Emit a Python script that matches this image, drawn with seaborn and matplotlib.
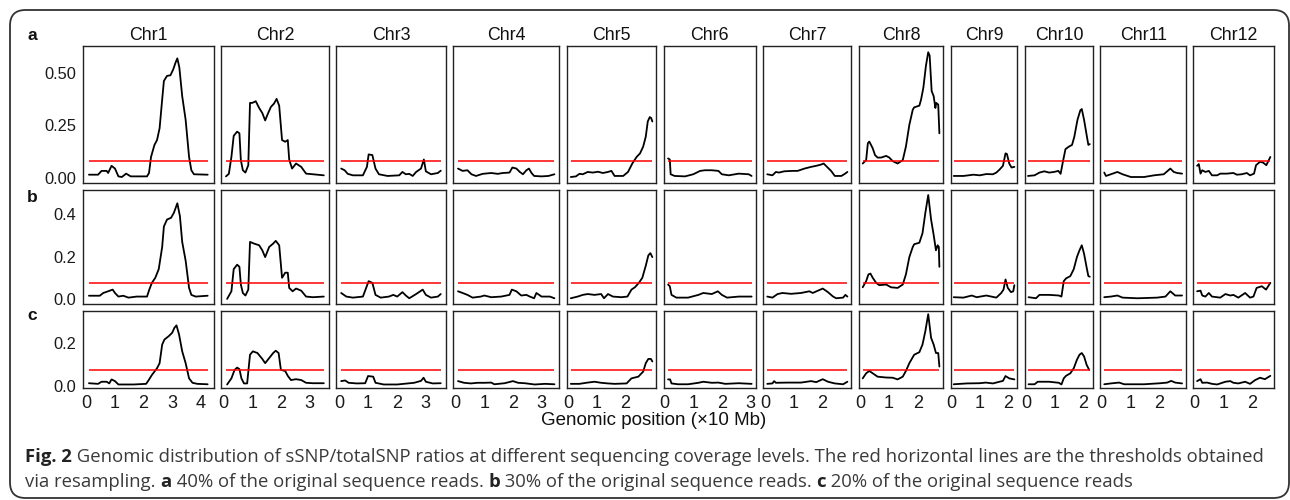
import numpy as np
import pandas as pd
import seaborn as sns
import matplotlib.pyplot as plt
from matplotlib.patches import FancyBboxPatch

# chromosome panels and sample rows
chroms = ['Chr1', 'Chr2', 'Chr3', 'Chr4', 'Chr5', 'Chr6',
          'Chr7', 'Chr8', 'Chr9', 'Chr10', 'Chr11', 'Chr12']
row_labels = ['a', 'b', 'c']
thresholds = [0.081, 0.077, 0.075]

ytick_vals = [[0.0, 0.25, 0.50], [0.0, 0.2, 0.4], [0.0, 0.2]]
ytick_text = [['0.00', '0.25', '0.50'], ['0.0', '0.2', '0.4'], ['0.0', '0.2']]

# --- a: 40% of reads (position in x10 Mb, sSNP/totalSNP ratio)
pos_a = [
    [0.09, 0.41, 0.53, 0.71, 0.76, 0.88, 1.0, 1.12, 1.24, 1.39, 1.55, 2.12, 2.19, 2.26, 2.38, 2.47, 2.56, 2.65, 2.71,
     2.82, 2.94, 3.04, 3.12, 3.18, 3.25, 3.35, 3.47, 3.59, 3.67, 3.76, 4.24],
    [0.08, 0.18, 0.27, 0.35, 0.47, 0.55, 0.6, 0.67, 0.76, 0.86, 0.92, 1.0, 1.12, 1.24, 1.35, 1.45, 1.53, 1.65, 1.76,
     1.85, 1.94, 2.04, 2.15, 2.24, 2.29, 2.39, 2.53, 2.71, 2.88, 3.12, 3.5],
    [0.06, 0.18, 0.29, 0.47, 0.82, 0.96, 1.02, 1.15, 1.26, 1.38, 1.68, 2.09, 2.2, 2.32, 2.44, 2.56, 2.68, 2.85, 2.95,
     3.02, 3.2, 3.44, 3.54],
    [0.08, 0.24, 0.41, 0.55, 0.71, 0.94, 1.24, 1.47, 1.65, 1.88, 1.98, 2.12, 2.24, 2.35, 2.47, 2.56, 2.65, 2.74, 3.0,
     3.24, 3.45],
    [0.09, 0.27, 0.39, 0.51, 0.68, 0.86, 1.04, 1.21, 1.39, 1.51, 1.62, 1.92, 2.09, 2.24, 2.39, 2.51, 2.62, 2.71, 2.78,
     2.85, 2.9, 2.94],
    [0.12, 0.18, 0.21, 0.35, 0.71, 1.0, 1.24, 1.41, 1.65, 1.88, 2.0, 2.24, 2.59, 2.94, 3.04],
    [0.08, 0.26, 0.38, 0.49, 0.67, 0.96, 1.14, 1.38, 1.61, 1.79, 1.96, 2.05, 2.19, 2.31, 2.44, 2.67, 2.79, 2.88],
    [0.08, 0.2, 0.26, 0.31, 0.43, 0.51, 0.6, 0.72, 0.9, 1.01, 1.13, 1.3, 1.48, 1.59, 1.71, 1.83, 1.88, 2.06, 2.12, 2.2,
     2.29, 2.37, 2.42, 2.49, 2.56, 2.62, 2.65, 2.72, 2.76],
    [0.09, 0.43, 0.78, 1.0, 1.23, 1.46, 1.58, 1.69, 1.81, 1.9, 1.95, 2.03, 2.11, 2.21],
    [0.06, 0.29, 0.46, 0.63, 0.8, 0.97, 1.12, 1.2, 1.28, 1.37, 1.49, 1.6, 1.68, 1.79, 1.89, 1.94, 2.02, 2.11, 2.17,
     2.22],
    [0.09, 0.15, 0.32, 0.55, 0.73, 1.02, 1.48, 1.83, 2.17, 2.29, 2.4, 2.52, 2.64, 2.81],
    [0.09, 0.15, 0.21, 0.27, 0.38, 0.5, 0.61, 0.79, 0.9, 1.13, 1.36, 1.48, 1.65, 1.83, 1.94, 2.08, 2.15, 2.29, 2.4,
     2.51, 2.65],
]
ratio_a = [
    [0.016, 0.016, 0.034, 0.034, 0.024, 0.058, 0.045, 0.008, 0.005, 0.021, 0.008, 0.008, 0.024, 0.10, 0.157, 0.18,
     0.236, 0.372, 0.46, 0.484, 0.487, 0.516, 0.548, 0.567, 0.524, 0.388, 0.276, 0.10, 0.037, 0.018, 0.016],
    [0.008, 0.02, 0.10, 0.20, 0.22, 0.212, 0.085, 0.037, 0.026, 0.061, 0.356, 0.356, 0.364, 0.332, 0.308, 0.273, 0.30,
     0.337, 0.353, 0.375, 0.343, 0.18, 0.172, 0.18, 0.088, 0.045, 0.069, 0.053, 0.021, 0.018, 0.013],
    [0.045, 0.037, 0.02, 0.013, 0.013, 0.053, 0.112, 0.109, 0.045, 0.018, 0.01, 0.013, 0.029, 0.018, 0.02, 0.01, 0.029,
     0.045, 0.088, 0.032, 0.018, 0.024, 0.035],
    [0.045, 0.034, 0.037, 0.018, 0.01, 0.02, 0.024, 0.02, 0.024, 0.026, 0.05, 0.045, 0.029, 0.018, 0.037, 0.045, 0.024,
     0.01, 0.008, 0.01, 0.018],
    [0.005, 0.008, 0.02, 0.018, 0.029, 0.026, 0.03, 0.024, 0.029, 0.034, 0.01, 0.01, 0.029, 0.069, 0.10, 0.117, 0.149,
     0.196, 0.268, 0.289, 0.284, 0.268],
    [0.093, 0.088, 0.018, 0.01, 0.008, 0.018, 0.034, 0.037, 0.037, 0.034, 0.018, 0.013, 0.021, 0.018, 0.01],
    [0.018, 0.013, 0.029, 0.026, 0.032, 0.034, 0.034, 0.045, 0.053, 0.058, 0.064, 0.069, 0.05, 0.034, 0.01, 0.01, 0.02,
     0.029],
    [0.069, 0.085, 0.165, 0.173, 0.141, 0.109, 0.097, 0.097, 0.105, 0.097, 0.08, 0.069, 0.085, 0.149, 0.252, 0.324,
     0.335, 0.343, 0.372, 0.428, 0.532, 0.596, 0.58, 0.412, 0.388, 0.332, 0.356, 0.348, 0.212],
    [0.01, 0.01, 0.016, 0.013, 0.019, 0.018, 0.026, 0.04, 0.058, 0.117, 0.114, 0.069, 0.05, 0.053],
    [0.01, 0.013, 0.026, 0.032, 0.026, 0.029, 0.034, 0.02, 0.077, 0.137, 0.149, 0.157, 0.196, 0.276, 0.321, 0.327,
     0.276, 0.204, 0.157, 0.161],
    [0.026, 0.01, 0.018, 0.029, 0.018, 0.005, 0.005, 0.013, 0.018, 0.032, 0.045, 0.029, 0.024, 0.021],
    [0.058, 0.066, 0.021, 0.037, 0.029, 0.034, 0.013, 0.013, 0.021, 0.021, 0.024, 0.016, 0.018, 0.024, 0.013, 0.021,
     0.061, 0.077, 0.073, 0.061, 0.10],
]

# --- b: 30% of reads
pos_b = [
    [0.09, 0.47, 0.59, 0.76, 0.92, 1.0, 1.12, 1.29, 1.47, 1.76, 2.12, 2.2, 2.29, 2.41, 2.53, 2.65, 2.71, 2.82, 2.96,
     3.06, 3.18, 3.27, 3.35, 3.47, 3.59, 3.67, 3.82, 4.24],
    [0.12, 0.27, 0.35, 0.47, 0.55, 0.6, 0.67, 0.76, 0.86, 0.92, 1.06, 1.24, 1.35, 1.45, 1.59, 1.73, 1.82, 1.94, 2.04,
     2.15, 2.24, 2.29, 2.41, 2.53, 2.71, 2.88, 3.12, 3.5],
    [0.06, 0.24, 0.47, 0.82, 1.02, 1.15, 1.26, 1.44, 1.73, 1.88, 2.02, 2.2, 2.32, 2.44, 2.68, 2.91, 3.02, 3.2, 3.44,
     3.54],
    [0.08, 0.24, 0.41, 0.59, 0.88, 1.0, 1.24, 1.59, 1.88, 1.96, 2.12, 2.29, 2.47, 2.59, 2.74, 2.82, 3.0, 3.29, 3.45],
    [0.09, 0.33, 0.51, 0.68, 0.92, 1.15, 1.25, 1.39, 1.56, 1.86, 2.07, 2.21, 2.33, 2.47, 2.59, 2.71, 2.8, 2.87, 2.94],
    [0.12, 0.18, 0.24, 0.41, 0.82, 1.18, 1.35, 1.65, 1.86, 2.0, 2.18, 2.59, 3.04],
    [0.08, 0.26, 0.44, 0.61, 0.91, 1.26, 1.55, 1.67, 1.85, 2.02, 2.2, 2.38, 2.49, 2.73, 2.81, 2.88],
    [0.08, 0.2, 0.28, 0.35, 0.43, 0.55, 0.66, 0.9, 1.07, 1.3, 1.48, 1.59, 1.71, 1.83, 1.88, 2.06, 2.17, 2.27, 2.37,
     2.47, 2.56, 2.64, 2.7, 2.74, 2.76],
    [0.09, 0.43, 0.72, 0.89, 1.23, 1.58, 1.75, 1.83, 1.9, 1.98, 2.09, 2.17, 2.21],
    [0.08, 0.34, 0.46, 0.8, 1.14, 1.23, 1.31, 1.39, 1.54, 1.66, 1.77, 1.86, 1.94, 2.02, 2.11, 2.17, 2.22],
    [0.09, 0.32, 0.55, 0.73, 1.25, 1.94, 2.23, 2.4, 2.57, 2.81],
    [0.09, 0.21, 0.27, 0.38, 0.5, 0.61, 0.9, 1.08, 1.25, 1.36, 1.53, 1.77, 1.94, 2.06, 2.17, 2.35, 2.5, 2.65],
]
ratio_b = [
    [0.015, 0.015, 0.028, 0.036, 0.044, 0.028, 0.011, 0.015, 0.006, 0.011, 0.011, 0.044, 0.076, 0.10, 0.141, 0.246,
     0.343, 0.376, 0.384, 0.408, 0.453, 0.392, 0.27, 0.181, 0.052, 0.019, 0.011, 0.015],
    [0.0, 0.036, 0.141, 0.162, 0.152, 0.068, 0.028, 0.016, 0.044, 0.27, 0.262, 0.254, 0.23, 0.198, 0.246, 0.262, 0.275,
     0.254, 0.10, 0.124, 0.124, 0.052, 0.036, 0.049, 0.039, 0.011, 0.008, 0.011],
    [0.028, 0.011, 0.006, 0.011, 0.084, 0.076, 0.019, 0.006, 0.011, 0.019, 0.011, 0.032, 0.016, 0.003, 0.023, 0.044,
     0.019, 0.006, 0.011, 0.023],
    [0.036, 0.028, 0.019, 0.006, 0.011, 0.016, 0.008, 0.011, 0.019, 0.044, 0.036, 0.016, 0.019, 0.011, 0.003, 0.028,
     0.011, 0.011, 0.003],
    [0.003, 0.011, 0.019, 0.023, 0.019, 0.023, 0.003, 0.023, 0.011, 0.008, 0.011, 0.044, 0.055, 0.076, 0.10, 0.157,
     0.206, 0.217, 0.198],
    [0.068, 0.06, 0.019, 0.006, 0.006, 0.019, 0.028, 0.023, 0.036, 0.019, 0.006, 0.011, 0.011],
    [0.011, 0.006, 0.023, 0.028, 0.024, 0.028, 0.036, 0.028, 0.039, 0.049, 0.032, 0.011, 0.003, 0.006, 0.019, 0.011],
    [0.055, 0.084, 0.116, 0.12, 0.10, 0.076, 0.065, 0.068, 0.055, 0.052, 0.068, 0.116, 0.198, 0.246, 0.259, 0.266,
     0.311, 0.408, 0.492, 0.376, 0.303, 0.23, 0.254, 0.246, 0.152],
    [0.008, 0.006, 0.016, 0.008, 0.016, 0.006, 0.028, 0.044, 0.092, 0.052, 0.032, 0.036, 0.065],
    [0.008, 0.003, 0.019, 0.019, 0.016, 0.011, 0.084, 0.097, 0.108, 0.141, 0.198, 0.23, 0.254, 0.214, 0.149, 0.108,
     0.105],
    [0.008, 0.011, 0.016, 0.006, 0.003, 0.006, 0.011, 0.036, 0.016, 0.016],
    [0.036, 0.039, 0.016, 0.011, 0.028, 0.011, 0.006, 0.023, 0.016, 0.019, 0.006, 0.028, 0.006, 0.011, 0.052, 0.06,
     0.044, 0.076],
]

# --- c: 20% of reads
pos_c = [
    [0.09, 0.41, 0.53, 0.71, 0.8, 0.88, 1.0, 1.12, 1.65, 2.09, 2.18, 2.29, 2.47, 2.56, 2.65, 2.73, 2.88, 3.0, 3.08,
     3.15, 3.24, 3.35, 3.47, 3.59, 3.71, 3.88, 4.24],
    [0.12, 0.27, 0.38, 0.47, 0.55, 0.62, 0.71, 0.82, 0.92, 1.02, 1.18, 1.35, 1.45, 1.59, 1.73, 1.82, 1.92, 2.0, 2.15,
     2.24, 2.35, 2.53, 2.71, 2.88, 3.12, 3.5],
    [0.06, 0.2, 0.32, 0.61, 0.9, 1.0, 1.18, 1.26, 1.55, 2.02, 2.61, 2.85, 2.94, 3.02, 3.26, 3.54],
    [0.08, 0.29, 0.53, 0.76, 1.0, 1.24, 1.35, 1.71, 2.0, 2.18, 2.41, 2.76, 3.12, 3.45],
    [0.09, 0.39, 0.68, 0.92, 1.15, 1.39, 1.62, 2.04, 2.21, 2.45, 2.62, 2.71, 2.8, 2.89, 2.94],
    [0.12, 0.19, 0.24, 0.47, 0.82, 1.18, 1.35, 1.65, 1.88, 2.12, 2.59, 3.04],
    [0.08, 0.26, 0.32, 0.38, 0.79, 1.26, 1.61, 1.79, 2.02, 2.2, 2.44, 2.73, 2.88],
    [0.08, 0.2, 0.31, 0.43, 0.6, 0.9, 1.13, 1.3, 1.48, 1.59, 1.71, 1.88, 2.06, 2.17, 2.27, 2.37, 2.47, 2.56, 2.64,
     2.72, 2.76],
    [0.09, 0.55, 1.0, 1.21, 1.46, 1.69, 1.81, 1.9, 2.03, 2.21],
    [0.08, 0.29, 0.4, 0.8, 1.14, 1.23, 1.31, 1.39, 1.54, 1.66, 1.77, 1.86, 1.94, 2.02, 2.11, 2.2],
    [0.09, 0.32, 0.61, 0.79, 1.48, 2.06, 2.29, 2.43, 2.57, 2.81],
    [0.09, 0.21, 0.27, 0.44, 0.61, 0.79, 1.08, 1.25, 1.36, 1.53, 1.77, 1.94, 2.12, 2.29, 2.46, 2.65],
]
ratio_c = [
    [0.011, 0.008, 0.018, 0.018, 0.01, 0.029, 0.021, 0.005, 0.005, 0.008, 0.026, 0.05, 0.082, 0.106, 0.194, 0.218,
     0.234, 0.25, 0.274, 0.285, 0.242, 0.162, 0.106, 0.034, 0.013, 0.008, 0.006],
    [0.005, 0.034, 0.074, 0.085, 0.078, 0.034, 0.01, 0.01, 0.146, 0.162, 0.154, 0.126, 0.106, 0.13, 0.154, 0.165, 0.154,
     0.074, 0.069, 0.046, 0.026, 0.03, 0.026, 0.013, 0.011, 0.011],
    [0.021, 0.024, 0.013, 0.01, 0.011, 0.045, 0.042, 0.013, 0.005, 0.005, 0.013, 0.022, 0.037, 0.018, 0.01, 0.011],
    [0.021, 0.013, 0.01, 0.013, 0.013, 0.014, 0.006, 0.011, 0.021, 0.013, 0.011, 0.005, 0.008, 0.006],
    [0.008, 0.008, 0.014, 0.018, 0.013, 0.01, 0.008, 0.01, 0.034, 0.042, 0.066, 0.106, 0.126, 0.126, 0.114],
    [0.029, 0.029, 0.01, 0.006, 0.006, 0.013, 0.018, 0.013, 0.014, 0.008, 0.011, 0.008],
    [0.008, 0.01, 0.021, 0.013, 0.014, 0.014, 0.021, 0.016, 0.03, 0.018, 0.01, 0.006, 0.018],
    [0.034, 0.058, 0.069, 0.058, 0.042, 0.038, 0.037, 0.029, 0.042, 0.069, 0.106, 0.146, 0.158, 0.194, 0.258, 0.338,
     0.226, 0.194, 0.154, 0.154, 0.09],
    [0.006, 0.01, 0.011, 0.014, 0.01, 0.018, 0.022, 0.045, 0.034, 0.029],
    [0.006, 0.006, 0.018, 0.018, 0.013, 0.005, 0.034, 0.046, 0.058, 0.082, 0.122, 0.146, 0.154, 0.138, 0.098, 0.074],
    [0.006, 0.01, 0.014, 0.006, 0.006, 0.011, 0.014, 0.022, 0.014, 0.01],
    [0.021, 0.03, 0.013, 0.014, 0.008, 0.005, 0.018, 0.021, 0.013, 0.01, 0.018, 0.008, 0.026, 0.037, 0.03, 0.046],
]

positions = [pos_a, pos_b, pos_c]
ratios = [ratio_a, ratio_b, ratio_c]

sns.set_style("white")
plt.rcParams['font.family'] = ['Liberation Sans', 'DejaVu Sans']

# ggplot-like free scales: limits from data with 5% expansion
col_lo = [min(min(p[j]) for p in positions) for j in range(12)]
col_hi = [max(max(p[j]) for p in positions) for j in range(12)]
xlims = [(lo - 0.05 * (hi - lo), hi + 0.05 * (hi - lo)) for lo, hi in zip(col_lo, col_hi)]
ylims = []
for i in range(3):
    lo = min(min(min(r) for r in ratios[i]), thresholds[i])
    hi = max(max(max(r) for r in ratios[i]), thresholds[i])
    ylims.append((lo - 0.05 * (hi - lo), hi + 0.05 * (hi - lo)))

fig = plt.figure(figsize=(12.9, 5.0), dpi=100)
gs = fig.add_gridspec(3, 12,
                      width_ratios=[b - a for a, b in xlims],
                      height_ratios=[b - a for a, b in ylims],
                      left=83 / 1290, right=1274 / 1290, top=1 - 46 / 500, bottom=1 - 388 / 500,
                      wspace=0.081, hspace=0.06)

for i in range(3):
    for j in range(12):
        ax = fig.add_subplot(gs[i, j])
        df = pd.DataFrame({'pos': positions[i][j], 'ratio': ratios[i][j]})
        sns.lineplot(data=df, x='pos', y='ratio', ax=ax, color='black', lw=1.3,
                     estimator=None, sort=False)
        ax.hlines(thresholds[i], col_lo[j], col_hi[j], color='#FF0000', lw=1.1)
        ax.set_xlim(xlims[j])
        ax.set_ylim(ylims[i])
        ax.set_xlabel('')
        ax.set_ylabel('')
        ax.set_yticks(ytick_vals[i])
        ax.set_xticks(range(int(col_hi[j]) + 1))
        if j == 0:
            ax.set_yticklabels(ytick_text[i])
        else:
            ax.set_yticklabels([])
        if i == 2:
            ax.set_xticklabels([str(k) for k in range(int(col_hi[j]) + 1)])
        else:
            ax.set_xticklabels([])
        if i == 0:
            ax.set_title(chroms[j], fontsize=12.8, pad=4, color='#111111')
        ax.tick_params(axis='both', length=3.5, width=0.8, color='#333333', pad=1.2,
                       labelcolor='#1a1a1a')
        ax.tick_params(axis='y', labelsize=11.8)
        ax.tick_params(axis='x', labelsize=13)
        for s in ax.spines.values():
            s.set_color('#222222')
            s.set_linewidth(1.0)

# row labels
for lab, ypx in zip(row_labels, [35, 197, 316]):
    fig.text(32 / 1290, 1 - ypx / 500, lab, fontsize=12.5, fontweight='bold',
             ha='center', va='center', color='#111111')

fig.text(654 / 1290, 1 - 425 / 500, 'Genomic position (\u00d710 Mb)',
         fontsize=13.5, ha='center', va='baseline', color='#111111')

# caption, written as runs of normal / bold text
cap_font = ['Open Sans', 'DejaVu Sans']
cap_size = 13.3
line1 = [('Fig. 2', 'bold'),
         (' Genomic distribution of sSNP/totalSNP ratios at different sequencing coverage levels. '
          'The red horizontal lines are the thresholds obtained', 'normal')]
line2 = [('via resampling. ', 'normal'), ('a', 'bold'), (' 40% of the original sequence reads. ', 'normal'),
         ('b', 'bold'), (' 30% of the original sequence reads. ', 'normal'), ('c', 'bold'),
         (' 20% of the original sequence reads', 'normal')]

renderer = fig.canvas.get_renderer()
for runs, ypx in [(line1, 462), (line2, 487)]:
    xpx = 25
    for txt, wt in runs:
        t = fig.text(xpx / 1290, 1 - ypx / 500, txt, fontsize=cap_size, fontweight=wt,
                     family=cap_font, color='#3a3a3a' if wt == 'normal' else '#222222',
                     ha='left', va='baseline')
        xpx += t.get_window_extent(renderer=renderer).width

# rounded frame
frame = FancyBboxPatch((10 / 1290, 2 / 500), 1279 / 1290, 488 / 500,
                       boxstyle='round,pad=0,rounding_size=0.012',
                       transform=fig.transFigure, fill=False, lw=1.3, ec='#333333',
                       mutation_aspect=1290 / 500)
fig.patches.append(frame)

fig.savefig('out.png', dpi=100)
